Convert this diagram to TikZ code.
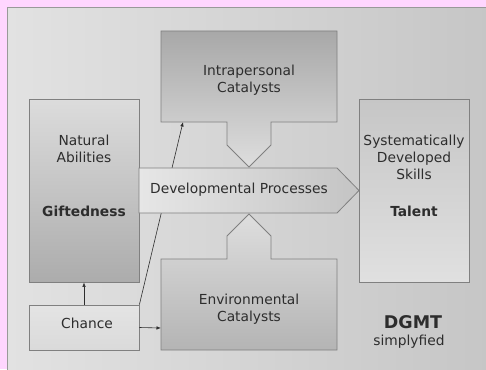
\documentclass[tikz,border=0pt]{standalone}
\usepackage{fontspec}
\setmainfont{DejaVu Sans}
\usetikzlibrary{arrows.meta}
\definecolor{pinkbg}{RGB}{255,214,255}
\definecolor{edge}{RGB}{128,128,128}
\definecolor{ink}{RGB}{45,45,45}
\tikzset{
  box/.style={draw=edge, line width=0.8pt, inner sep=0pt},
  txt/.style={text=ink, align=center, font=\fontsize{13.8}{17}\selectfont, inner sep=0pt},
  btxt/.style={text=ink, align=center, font=\fontsize{13.8}{17}\selectfont\bfseries, inner sep=0pt},
  conn/.style={draw=ink, line width=0.6pt, -{Latex[length=4.5pt,width=3.5pt]}}
}
\begin{document}
\begin{tikzpicture}[x=1pt,y=-1pt]
\useasboundingbox (0,0) rectangle (486,369);
\fill[pinkbg] (0,0) rectangle (486,369);
\path[draw=edge!80, line width=1pt, left color={rgb,255:red,226;green,226;blue,226}, right color={rgb,255:red,198;green,198;blue,198}] (7,8) rectangle (490,373);
% nodes
\node[box, minimum width=110pt, minimum height=183pt, top color={rgb,255:red,220;green,220;blue,220}, bottom color={rgb,255:red,172;green,172;blue,172}] (nat) at (84,190.5) {};
\node[box, minimum width=110pt, minimum height=183pt, top color={rgb,255:red,198;green,198;blue,198}, bottom color={rgb,255:red,224;green,224;blue,224}] (skl) at (414,190.5) {};
\node[box, minimum width=110pt, minimum height=45pt, top color={rgb,255:red,228;green,228;blue,228}, bottom color={rgb,255:red,218;green,218;blue,218}] (chance) at (84,327.5) {};
\coordinate (intraIn) at (183,122);
% connector behind the developmental arrow
\draw[conn] (chance.north east) -- (intraIn);
\draw[conn] (chance.north) -- (nat.south);
% callouts
\path[box, top color={rgb,255:red,168;green,168;blue,168}, bottom color={rgb,255:red,222;green,222;blue,222}]
  (161,31) -- (337,31) -- (337,122) -- (271,122) -- (271,145) -- (249,167) -- (227,145) -- (227,122) -- (161,122) -- cycle;
\path[box, top color={rgb,255:red,222;green,222;blue,222}, bottom color={rgb,255:red,180;green,180;blue,180}]
  (161,350) -- (337,350) -- (337,259) -- (271,259) -- (271,236) -- (249,214) -- (227,236) -- (227,259) -- (161,259) -- cycle;
\coordinate (envIn) at (161,328);
\draw[conn] (chance.east) -- (envIn);
% developmental processes
\path[box, left color={rgb,255:red,230;green,230;blue,230}, right color={rgb,255:red,196;green,196;blue,196}]
  (139,168) -- (337,168) -- (359,190.5) -- (337,213) -- (139,213) -- cycle;
% texts
\node[txt] (natT) at (84,149) {Natural\\Abilities};
\node[btxt] (gift) at (84,211) {Giftedness};
\node[txt] (intraT) at (249,80) {Intrapersonal\\Catalysts};
\node[txt] (devT) at (239,190) {Developmental Processes};
\node[txt] (envT) at (249,309) {Environmental\\Catalysts};
\node[txt] (sklT) at (414,157.5) {Systematically\\Developed\\Skills};
\node[btxt] (tal) at (414,211) {Talent};
\node[txt] (chT) at (87,323) {Chance};
\node[text=ink, font=\fontsize{17.5}{20}\selectfont\bfseries, inner sep=0pt] (dgmt) at (413,322) {DGMT};
\node[txt] (simp) at (409,342) {simplyfied};
\end{tikzpicture}
\end{document}
